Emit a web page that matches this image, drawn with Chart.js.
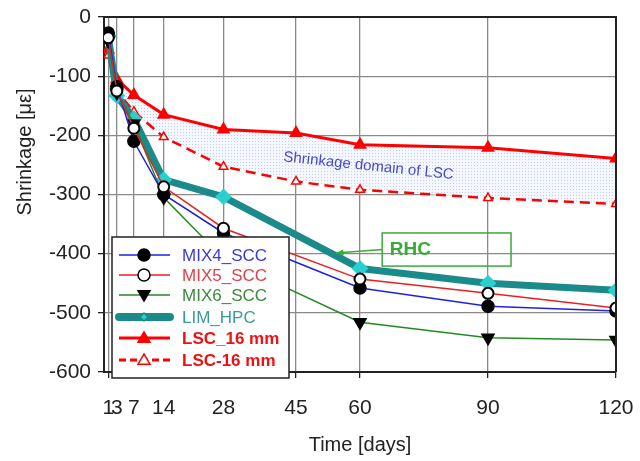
<!DOCTYPE html>
<html>
<head>
<meta charset="utf-8">
<script src="https://cdn.jsdelivr.net/npm/chart.js@4.4.0/dist/chart.umd.min.js"></script>
<style>
  html, body { margin: 0; padding: 0; background: #fff; }
</style>
</head>
<body>
<canvas id="myChart" width="640" height="461"></canvas>
<script>
//Age of the specimens (days) and the tick values shown on the axes.
let days = [1, 3, 7, 14, 28, 45, 60, 90, 120];
let xTicks = [1, 3, 7, 14, 28, 45, 60, 90, 120];
let yTicks = [0, -100, -200, -300, -400, -500, -600];

let mix4 = [-27, -118, -210, -300, -365, null, -458, -489, -497];
let mix5 = [-35, -125, -188, -287, -357, null, -443, -467, -492];
let mix6 = [-40, -128, -180, -305, -408, null, -516, -542, -546];
let limHpc = [-32, -133, -172, -275, -304, null, -425, -450, -462];
let lsc16 = [-55, -105, -132, -165, -190, -196, -216, -221, -239];
let lsc16b = [-65, -125, -160, -203, -253, -278, -292, -306, -316];

let seriesNames = ["MIX4_SCC", "MIX5_SCC", "MIX6_SCC", "LIM_HPC", "LSC_16 mm", "LSC-16 mm"];

let fontFamily = "'Liberation Sans', Arial, sans-serif";
Chart.defaults.font.family = fontFamily;

function toPoints(values) {
  return days.map((d, i) => ({ x: d, y: values[i] }));
}

//Dotted light blue fill for the LSC domain.
let pc = document.createElement("canvas");
pc.width = 3;
pc.height = 3;
let pctx = pc.getContext("2d");
pctx.fillStyle = "#f4f8fe";
pctx.fillRect(0, 0, 3, 3);
pctx.fillStyle = "#bfd1f0";
pctx.fillRect(0, 0, 1, 1);
let domainFill = pctx.createPattern(pc, "repeat");

//Legend look for every series.
let legendStyle = [
  { text: "#3b3bd0", bold: false, marker: "circle", fill: "#000", stroke: "#000", line: "#2020e0", width: 1.5 },
  { text: "#e0404a", bold: false, marker: "circle", fill: "#fff", stroke: "#000", line: "#e82020", width: 1.5 },
  { text: "#3a8a3a", bold: false, marker: "triDown", fill: "#000", stroke: "#000", line: "#238a23", width: 1.5 },
  { text: "#3a9a9a", bold: false, marker: "diamond", fill: "#2ad0d0", stroke: "#1b8a8a", line: "#1b8a8a", width: 8 },
  { text: "#ee1111", bold: true, marker: "triUp", fill: "#ff0000", stroke: "#ff0000", line: "#ff0000", width: 3 },
  { text: "#ee1111", bold: true, marker: "triUp", fill: "#fff", stroke: "#ff0000", line: "#ff0000", width: 3, dash: [7, 4] }
];

function drawMarker(ctx, kind, x, y, r, fill, stroke) {
  ctx.save();
  ctx.beginPath();
  if (kind === "circle") {
    ctx.arc(x, y, r, 0, Math.PI * 2);
  } else if (kind === "triDown") {
    ctx.moveTo(x - r, y - r * 0.7);
    ctx.lineTo(x + r, y - r * 0.7);
    ctx.lineTo(x, y + r);
    ctx.closePath();
  } else if (kind === "triUp") {
    ctx.moveTo(x - r, y + r * 0.7);
    ctx.lineTo(x + r, y + r * 0.7);
    ctx.lineTo(x, y - r);
    ctx.closePath();
  } else {
    ctx.moveTo(x, y - r);
    ctx.lineTo(x + r, y);
    ctx.lineTo(x, y + r);
    ctx.lineTo(x - r, y);
    ctx.closePath();
  }
  ctx.fillStyle = fill;
  ctx.fill();
  ctx.lineWidth = 1.5;
  ctx.strokeStyle = stroke;
  ctx.setLineDash([]);
  ctx.stroke();
  ctx.restore();
}

//Frame, legend box, annotations and y title.
let extrasPlugin = {
  id: "extras",
  afterDraw(chart) {
    let ctx = chart.ctx;
    let area = chart.chartArea;
    let xs = chart.scales.x;
    let ys = chart.scales.y;

    //Top and right frame lines.
    ctx.save();
    ctx.strokeStyle = "#222";
    ctx.lineWidth = 2;
    ctx.beginPath();
    ctx.moveTo(area.left, area.top);
    ctx.lineTo(area.right, area.top);
    ctx.lineTo(area.right, area.bottom);
    ctx.stroke();
    ctx.restore();

    //Y axis title.
    ctx.save();
    ctx.translate(25, 152);
    ctx.rotate(-Math.PI / 2);
    ctx.font = "20px " + fontFamily;
    ctx.fillStyle = "#222";
    ctx.textAlign = "center";
    ctx.textBaseline = "middle";
    ctx.fillText("Shrinkage [\u03bc\u03b5]", 0, 0);
    ctx.restore();

    //Shrinkage domain label.
    ctx.save();
    ctx.translate(xs.getPixelForValue(62), ys.getPixelForValue(-252));
    ctx.rotate(6 * Math.PI / 180);
    ctx.font = "15px " + fontFamily;
    ctx.fillStyle = "#4a4ac8";
    ctx.textAlign = "center";
    ctx.textBaseline = "middle";
    ctx.fillText("Shrinkage domain of LSC", 0, 0);
    ctx.restore();

    //RHC box with arrow.
    let bx1 = xs.getPixelForValue(65.2);
    let bx2 = xs.getPixelForValue(95.4);
    let by1 = ys.getPixelForValue(-365);
    let by2 = ys.getPixelForValue(-421);
    ctx.save();
    ctx.strokeStyle = "#3aaa3a";
    ctx.fillStyle = "#3aaa3a";
    ctx.lineWidth = 1.5;
    ctx.strokeRect(bx1, by1, bx2 - bx1, by2 - by1);
    ctx.font = "bold 19px " + fontFamily;
    ctx.textBaseline = "middle";
    ctx.fillText("RHC", xs.getPixelForValue(67), (by1 + by2) / 2);
    let ax = xs.getPixelForValue(54.4);
    let ay = ys.getPixelForValue(-399);
    let sy = (by1 + by2) / 2;
    ctx.beginPath();
    ctx.moveTo(bx1, sy);
    ctx.lineTo(ax, ay);
    ctx.stroke();
    let ang = Math.atan2(ay - sy, ax - bx1);
    ctx.beginPath();
    ctx.moveTo(ax, ay);
    ctx.lineTo(ax - 8 * Math.cos(ang - 0.4), ay - 8 * Math.sin(ang - 0.4));
    ctx.lineTo(ax - 8 * Math.cos(ang + 0.4), ay - 8 * Math.sin(ang + 0.4));
    ctx.closePath();
    ctx.fill();
    ctx.restore();

    //Legend box.
    let lx = area.left + 8;
    let ly = 237;
    let lw = 177;
    let lh = 141;
    ctx.save();
    ctx.fillStyle = "#fff";
    ctx.fillRect(lx, ly, lw, lh);
    ctx.strokeStyle = "#222";
    ctx.lineWidth = 1.5;
    ctx.strokeRect(lx, ly, lw, lh);
    let rowY = [18, 38, 58, 80, 101, 123];
    seriesNames.forEach((name, i) => {
      let s = legendStyle[i];
      let y = ly + rowY[i];
      ctx.save();
      ctx.strokeStyle = s.line;
      ctx.lineWidth = s.width;
      ctx.lineCap = i === 3 ? "round" : "butt";
      ctx.setLineDash(s.dash || []);
      ctx.beginPath();
      ctx.moveTo(lx + 7, y);
      ctx.lineTo(lx + 58, y);
      ctx.stroke();
      ctx.restore();
      drawMarker(ctx, s.marker, lx + 32, y, i === 3 ? 4 : 6, s.fill, s.stroke);
      ctx.font = (s.bold ? "bold " : "") + "17px " + fontFamily;
      ctx.fillStyle = s.text;
      ctx.textBaseline = "middle";
      ctx.fillText(name, lx + 70, y + 1);
    });
    ctx.restore();
  }
};

let ctx = document.getElementById("myChart").getContext("2d");

let myChart = new Chart(ctx, {
  type: "line",
  data: {
    datasets: [
      {
        label: seriesNames[0],
        data: toPoints(mix4),
        borderColor: "#2020e0",
        borderWidth: 1.5,
        pointStyle: "circle",
        pointRadius: 6,
        pointBackgroundColor: "#000",
        pointBorderColor: "#000",
        order: 2
      },
      {
        label: seriesNames[1],
        data: toPoints(mix5),
        borderColor: "#e82020",
        borderWidth: 1.5,
        pointStyle: "circle",
        pointRadius: 5.5,
        pointBorderWidth: 2,
        pointBackgroundColor: "#fff",
        pointBorderColor: "#000",
        order: 1
      },
      {
        label: seriesNames[2],
        data: toPoints(mix6),
        borderColor: "#238a23",
        borderWidth: 1.5,
        pointStyle: "triangle",
        rotation: 180,
        pointRadius: 7,
        pointBackgroundColor: "#000",
        pointBorderColor: "#000",
        order: 3
      },
      {
        label: seriesNames[3],
        data: toPoints(limHpc),
        borderColor: "#1b8a8a",
        borderWidth: 7,
        borderJoinStyle: "round",
        pointStyle: "rectRot",
        pointRadius: 3.5,
        pointBackgroundColor: "#2ad0d0",
        pointBorderColor: "#2ad0d0",
        order: 4
      },
      {
        label: seriesNames[4],
        data: toPoints(lsc16),
        borderColor: "#ff0000",
        borderWidth: 3,
        pointStyle: "triangle",
        pointRadius: 5,
        pointBackgroundColor: "#ff0000",
        pointBorderColor: "#ff0000",
        order: 5
      },
      {
        label: seriesNames[5],
        data: toPoints(lsc16b),
        borderColor: "#ff0000",
        borderWidth: 2.5,
        borderDash: [10, 6],
        pointStyle: "triangle",
        pointRadius: 5,
        pointBorderWidth: 1.5,
        pointBackgroundColor: "#fff",
        pointBorderColor: "#ff0000",
        fill: "-1",
        backgroundColor: domainFill,
        order: 6
      }
    ]
  },
  options: {
    responsive: false,
    animation: false,
    spanGaps: true,
    layout: { padding: { top: 17, right: 24, left: 0, bottom: 0 } },
    elements: { line: { tension: 0 } },
    plugins: {
      legend: { display: false },
      tooltip: { enabled: false }
    },
    scales: {
      x: {
        type: "linear",
        min: 0,
        max: 120,
        afterBuildTicks: axis => {
          axis.ticks = xTicks.map(v => ({ value: v }));
        },
        afterFit: axis => {
          axis.height = 89;
          axis.paddingLeft = 0;
          axis.paddingRight = 0;
        },
        grid: { color: "#8a8a8a", lineWidth: 1.3, tickLength: 6, tickColor: "#222" },
        border: { color: "#222", width: 2 },
        ticks: {
          autoSkip: false,
          maxRotation: 0,
          color: "#222",
          padding: 18,
          font: { size: 21 }
        },
        title: {
          display: true,
          text: "Time [days]",
          color: "#222",
          font: { size: 20 },
          padding: { top: 0, bottom: 4 }
        }
      },
      y: {
        min: -600,
        max: 0,
        afterBuildTicks: axis => {
          axis.ticks = yTicks.map(v => ({ value: v }));
        },
        afterFit: axis => {
          axis.width = 104;
          axis.paddingTop = 0;
          axis.paddingBottom = 0;
        },
        grid: { color: "#8a8a8a", lineWidth: 1.3, tickLength: 6, tickColor: "#222" },
        border: { color: "#222", width: 2 },
        ticks: {
          color: "#222",
          padding: 7,
          font: { size: 21 }
        }
      }
    }
  },
  plugins: [extrasPlugin]
});
</script>
</body>
</html>
